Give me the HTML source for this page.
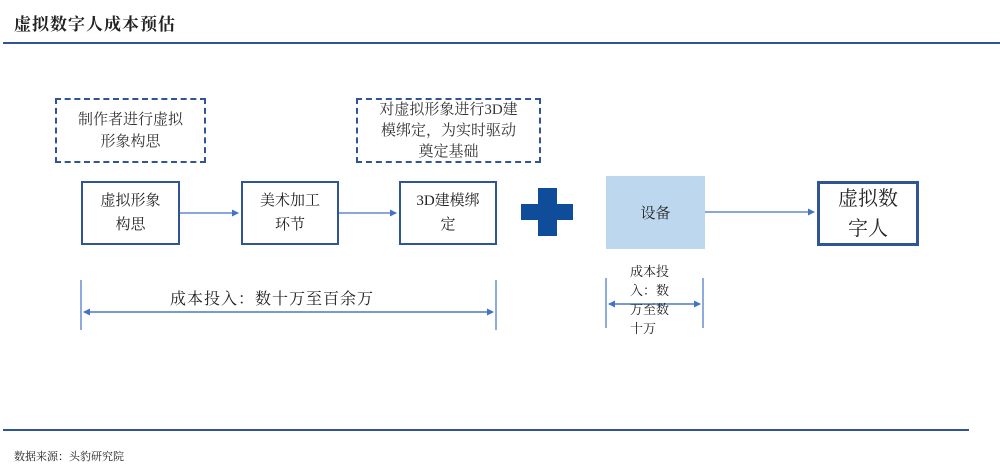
<!DOCTYPE html>
<html><head><meta charset="utf-8"><style>
body{margin:0;width:1000px;height:472px;background:#fff;position:relative;overflow:hidden;font-family:"Liberation Serif","Noto Serif CJK SC",serif;color:#222}
.a{position:absolute}
.box{position:absolute;border:2px solid #2f5597;box-sizing:border-box;display:flex;align-items:center;justify-content:center;text-align:center;font-size:15px;line-height:24px}
.dash{position:absolute;border:2px dashed #2f5597;box-sizing:border-box;text-align:center;font-size:15px;line-height:22px;color:#333}
</style></head><body>
<div class="a" style="left:14px;top:10px;font-size:17px;font-weight:bold;letter-spacing:1px">虚拟数字人成本预估</div>
<div class="a" style="left:3px;top:42px;width:997px;height:2px;background:#2f5597"></div>
<div class="dash" style="left:55px;top:98px;width:151px;height:65px;padding-top:9px">制作者进行虚拟<br>形象构思</div>
<div class="dash" style="left:356px;top:98px;width:185px;height:65px;padding-top:0px;line-height:21px">对虚拟形象进行3D建<br>模绑定，为实时驱动<br>奠定基础</div>
<div class="box" style="left:81px;top:181px;width:99px;height:64px">虚拟形象<br>构思</div>
<div class="box" style="left:241px;top:181px;width:98px;height:64px">美术加工<br>环节</div>
<div class="box" style="left:399px;top:181px;width:98px;height:64px">3D建模绑<br>定</div>
<div class="a" style="left:538px;top:188px;width:19px;height:48px;background:#0f4c9a"></div>
<div class="a" style="left:521px;top:204px;width:52px;height:16px;background:#0f4c9a"></div>
<div class="a" style="left:606px;top:176px;width:99px;height:73px;background:#bdd7ee;display:flex;align-items:center;justify-content:center;font-size:15px">设备</div>
<div class="box" style="left:817px;top:181px;width:102px;height:65px;border-width:3px;font-size:20px;line-height:30px">虚拟数<br>字人</div>
<svg class="a" style="left:0;top:0" width="1000" height="472">
<defs><marker id="m" markerWidth="7" markerHeight="7" refX="6" refY="3.5" orient="auto" markerUnits="userSpaceOnUse"><path d="M0,0L7,3.5L0,7z" fill="#4472c4"/></marker></defs>
<g stroke="#4472c4" stroke-width="1.2" fill="none">
<line x1="180" y1="213" x2="238" y2="213" marker-end="url(#m)"/>
<line x1="339" y1="213" x2="396" y2="213" marker-end="url(#m)"/>
<line x1="705" y1="212" x2="814" y2="212" marker-end="url(#m)"/>
<line x1="81" y1="280" x2="81" y2="330"/>
<line x1="496" y1="280" x2="496" y2="330"/>
<line x1="84" y1="312" x2="493" y2="312" marker-end="url(#m)"/>
<line x1="493" y1="312" x2="84" y2="312" marker-end="url(#m)"/>
<line x1="606" y1="278" x2="606" y2="328"/>
<line x1="703" y1="278" x2="703" y2="328"/>
<line x1="609" y1="304" x2="700" y2="304" marker-end="url(#m)"/>
<line x1="700" y1="304" x2="609" y2="304" marker-end="url(#m)"/>
</g></svg>
<div class="a" style="left:170px;top:286px;font-size:16px;letter-spacing:1px">成本投入：数十万至百余万</div>
<div class="a" style="left:630px;top:262px;font-size:13px;line-height:19px">成本投<br>入：数<br>万至数<br>十万</div>
<div class="a" style="left:3px;top:429px;width:966px;height:2px;background:#2f5597"></div>
<div class="a" style="left:14px;top:448px;font-size:11px">数据来源：头豹研究院</div>
</body></html>
